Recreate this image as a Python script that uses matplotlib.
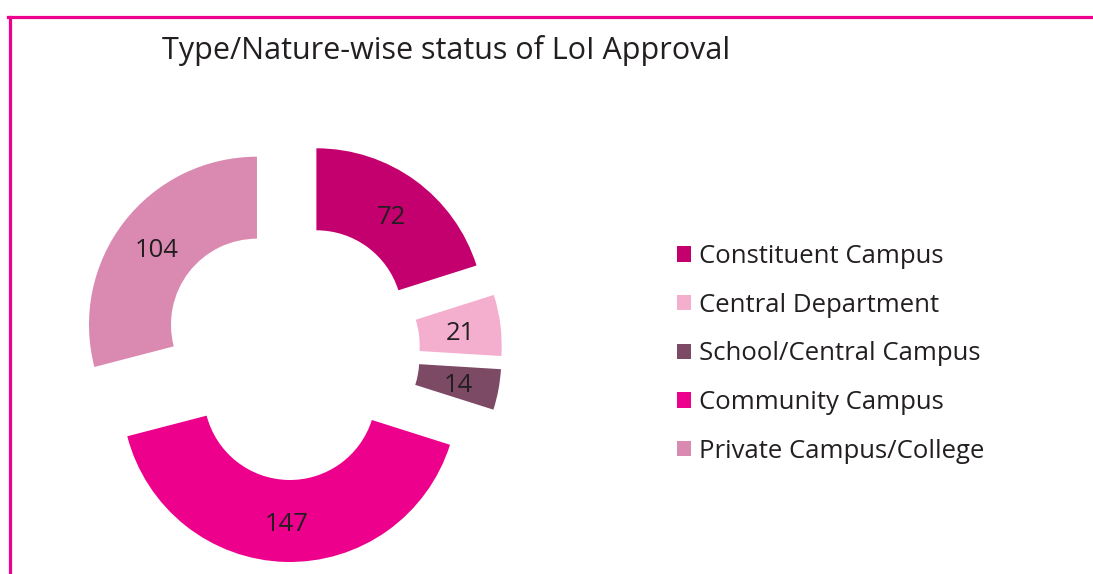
import matplotlib
matplotlib.use("Agg")
import matplotlib.pyplot as plt
from matplotlib.lines import Line2D
from matplotlib.transforms import offset_copy

categories = ["Constituent Campus", "Central Department", "School/Central Campus",
              "Community Campus", "Private Campus/College"]
values = [72, 21, 14, 147, 104]
colors = ["#C4006F", "#F4AECE", "#7C4A64", "#EC008C", "#DA8AB0"]
title = "Type/Nature-wise status of LoI Approval"

W, H = 1093, 574
plt.rcParams['font.family'] = ['Open Sans', 'DejaVu Sans']
fig = plt.figure(figsize=(W / 100, H / 100), dpi=100)
ax = fig.add_axes([0, 0, 1, 1])

R = 168
ring = 82
expl = 43
wedges, texts, autotexts = ax.pie(
    values, colors=colors, startangle=90, counterclock=False,
    center=(291, H - 351), radius=R, explode=[expl] * len(values),
    wedgeprops=dict(width=ring, linewidth=0),
    autopct=lambda p: f"{round(p * sum(values) / 100):d}",
    pctdistance=(R - ring / 2) / R,
    textprops=dict(fontsize=18.5, color="#231F20"), frame=True)
ax.set_xlim(0, W)
ax.set_ylim(0, H)
ax.set_aspect('equal')
ax.axis('off')
for t in autotexts:
    t.set_transform(offset_copy(ax.transData, fig=fig, x=0.5, y=-3.5, units='dots'))

fig.text(162 / W, 1 - 51 / H, title, fontsize=22, color="#231F20",
         ha='left', va='center')

leg = fig.legend(wedges, categories, loc='upper left',
                 bbox_to_anchor=(654 / W, 1 - 221 / H), frameon=False,
                 fontsize=18.5, handlelength=0.55, handleheight=0.55,
                 handletextpad=0.3, labelspacing=0.92, labelcolor="#231F20")

lw = 2.3
fig.add_artist(Line2D([8 / W, 1], [1 - 17 / H, 1 - 17 / H], color="#EC008C",
                      linewidth=lw, transform=fig.transFigure))
fig.add_artist(Line2D([10 / W, 10 / W], [1 - 17 / H, 0], color="#EC008C",
                      linewidth=lw, transform=fig.transFigure))

fig.savefig("out.png", dpi=100, facecolor="white")
